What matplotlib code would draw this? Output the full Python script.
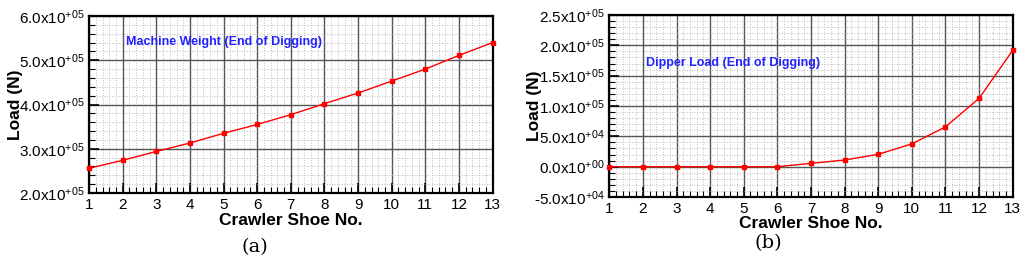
import numpy as np
import matplotlib
matplotlib.use('Agg')
import matplotlib.pyplot as plt
from matplotlib.ticker import MultipleLocator, AutoMinorLocator, FuncFormatter

plt.rcParams['font.family'] = ['Liberation Sans', 'DejaVu Sans']
plt.rcParams['mathtext.fontset'] = 'custom'
plt.rcParams['mathtext.rm'] = 'Liberation Sans'
plt.rcParams['mathtext.it'] = 'Liberation Sans'

shoe_no = np.arange(1, 14)
machine_weight = [2.56e5, 2.74e5, 2.94e5, 3.13e5, 3.35e5, 3.55e5, 3.77e5,
                  4.02e5, 4.26e5, 4.53e5, 4.80e5, 5.11e5, 5.40e5]
dipper_load = [0, 0, 0, 0, 0, 0, 5.5e3, 1.1e4, 2.04e4, 3.76e4, 6.57e4,
               1.127e5, 1.917e5]


def sci_fmt(v, pos):
    if v == 0:
        return r'0.0x10$^{+00}$'
    e = int(np.floor(np.log10(abs(v))))
    m = v / 10 ** e
    sign = '+' if e >= 0 else '-'
    return r'%.1fx10$^{%s%02d}$' % (m, sign, abs(e))


def style(ax, ylim, ymaj):
    ax.set_xlim(1, 13)
    ax.set_ylim(*ylim)
    ax.xaxis.set_major_locator(MultipleLocator(1))
    ax.xaxis.set_minor_locator(AutoMinorLocator(5))
    ax.yaxis.set_major_locator(MultipleLocator(ymaj))
    ax.yaxis.set_minor_locator(AutoMinorLocator(5))
    ax.yaxis.set_major_formatter(FuncFormatter(sci_fmt))
    ax.grid(which='major', color='#555555', lw=1.0)
    ax.grid(which='minor', color='#aaaaaa', lw=0.6, ls=(0, (1, 2)))
    ax.tick_params(which='both', direction='in', labelsize=11)
    ax.tick_params(which='major', length=7, width=1.2)
    ax.tick_params(which='minor', length=4, width=0.8)
    for s in ax.spines.values():
        s.set_linewidth(1.6)
    ax.set_xlabel('Crawler Shoe No.', fontsize=12.5, fontweight='bold', va='top')
    ax.set_ylabel('Load (N)', fontsize=12.5, fontweight='bold', va='center')
    ax.set_axisbelow(True)


fig = plt.figure(figsize=(10.24, 2.67), dpi=100)
ax1 = fig.add_axes([0.087, 0.277, 0.394, 0.663])
ax2 = fig.add_axes([0.595, 0.262, 0.394, 0.682])

ax1.plot(shoe_no, machine_weight, color='red', lw=1.0, marker='s', ms=3,
         clip_on=False, zorder=5)
style(ax1, (2.0e5, 6.0e5), 1e5)
ax1.xaxis.set_label_coords(0.5, -0.11)
ax1.yaxis.set_label_coords(-0.183, 0.5)
ax1.text(2.1, 5.41e5, 'Machine Weight (End of Digging)', color='#2222ff',
         fontsize=9, fontweight='bold', va='center')

ax2.plot(shoe_no, dipper_load, color='red', lw=1.0, marker='s', ms=3,
         clip_on=False, zorder=5)
style(ax2, (-5.0e4, 2.5e5), 5e4)
ax2.xaxis.set_label_coords(0.5, -0.105)
ax2.yaxis.set_label_coords(-0.186, 0.5)
ax2.text(2.1, 1.71e5, 'Dipper Load (End of Digging)', color='#2222ff',
         fontsize=9, fontweight='bold', va='center')

fig.text(0.249, 0.075, '(a)', fontsize=14, family='DejaVu Serif', ha='center', va='center')
fig.text(0.75, 0.09, '(b)', fontsize=14, family='DejaVu Serif', ha='center', va='center')

fig.savefig('out.png', dpi=100)
